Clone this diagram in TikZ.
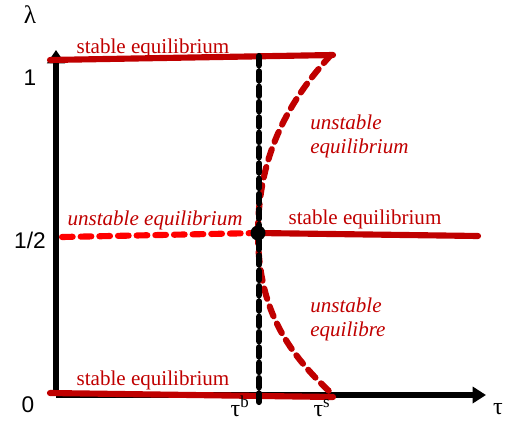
\documentclass[tikz,border=0pt]{standalone}
\usepackage{fontspec}
\setmainfont{Liberation Serif}
\newfontfamily\axisfont{Liberation Sans}
\usepackage{xcolor}
\usetikzlibrary{arrows.meta}
\definecolor{darkred}{RGB}{192,0,0}
\definecolor{brightred}{RGB}{255,0,0}

\begin{document}
\begin{tikzpicture}[x=0.75pt,y=0.75pt,yscale=-1,xscale=1,
	stableline/.style={draw=darkred,line width=4.6pt,line cap=round},
	unstableline/.style={draw=darkred,line width=4.6pt,line cap=round,dash pattern=on 8pt off 6pt},
	eqlabel/.style={text=darkred,font=\fontsize{15.8}{18}\selectfont,inner sep=0.75pt},
	unstablelabel/.style={eqlabel,font=\itshape\fontsize{15.8}{18}\selectfont,align=left},
	axislabel/.style={font=\axisfont\fontsize{17}{20}\selectfont,inner sep=0.75pt},
	taulabel/.style={font=\fontsize{18}{20}\selectfont,inner sep=0.5pt,anchor=base}]
	\useasboundingbox (0,0) rectangle (505,420);
	
	%Coordinates
	\coordinate (origin) at (56,395);
	\coordinate (ytip) at (56,50);
	\coordinate (xtip) at (486,395);
	\coordinate (branch) at (258,233);
	
	%Axes
	\draw [line width=4.6pt,-{Triangle[width=13pt,length=10pt]}] (origin) -- (ytip) ;
	\draw [line width=4.6pt,-{Triangle[width=12pt,length=10pt]}] (origin) -- (xtip) ;
	
	%Stable branches
	\draw [stableline] (50,60) -- (333,55) ;
	\draw [stableline] (50,393) -- (333,397) ;
	\draw [stableline] (branch) -- (478,236) ;
	
	%Unstable branches
	\draw [unstableline,draw=brightred] (62,237) -- (branch) ;
	\draw [unstableline] (branch) .. controls (258,160) and (285,105) .. (330,56) ;
	\draw [unstableline] (branch) .. controls (258,306) and (285,350) .. (330,392) ;
	
	%Vertical dashed line
	\draw [line width=4.6pt,line cap=round,dash pattern=on 7pt off 4.5pt] (259,56) -- (259,402) ;
	\fill (branch) circle (7.5) ;
	
	% Text Node
	\node [eqlabel] (top) at (153,48) {stable equilibrium};
	% Text Node
	\node [eqlabel] (bottom) at (153,380) {stable equilibrium};
	% Text Node
	\node [eqlabel] (right) at (365,219) {stable equilibrium};
	% Text Node
	\node [unstablelabel] (left) at (155,220) {unstable equilibrium};
	% Text Node
	\node [unstablelabel,anchor=north west] (upper) at (309,114) {unstable\\equilibrium};
	% Text Node
	\node [unstablelabel,anchor=north west] (lower) at (309,297) {unstable\\equilibre};
	
	% Axis labels
	\node [font=\fontsize{19}{20}\selectfont] (lambda) at (30,15) {λ};
	\node [axislabel] (one) at (30,78) {1};
	\node [axislabel] (half) at (30,240) {1/2};
	\node [axislabel] (zero) at (28,405) {0};
	\node [taulabel] (taub) at (240,416) {τ\textsuperscript{b}};
	\node [taulabel] (taus) at (322,416) {τ\textsuperscript{s}};
	\node [taulabel] (tau) at (498,414) {τ};
	
\end{tikzpicture}
\end{document}
